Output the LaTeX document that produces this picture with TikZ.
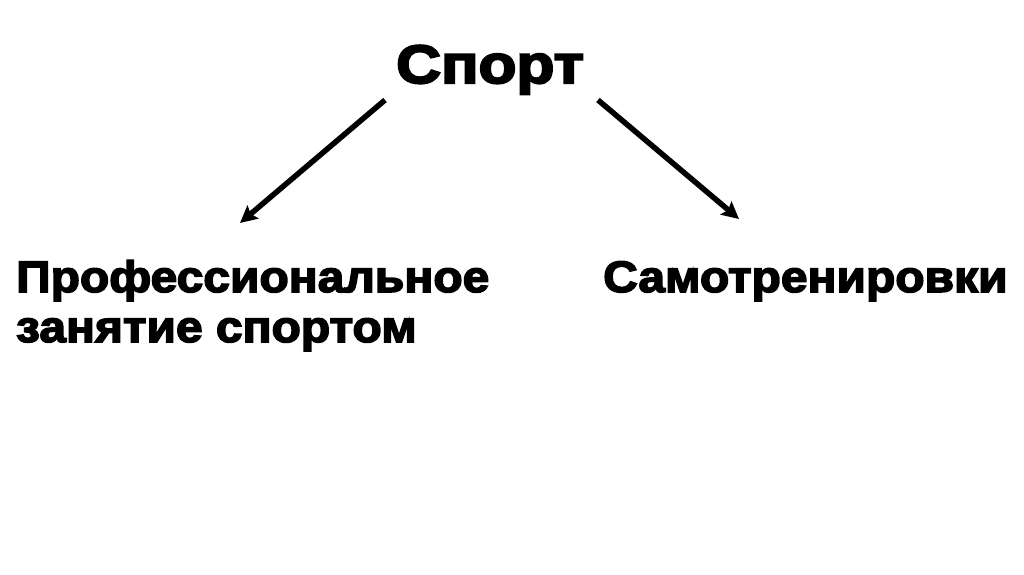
\documentclass[tikz,border=0pt]{standalone}
\usepackage{fontspec}
\setmainfont{Liberation Sans}[BoldFeatures={FakeBold=3.5,FakeStretch=1.09}]
\newfontfamily\ttlfont{Liberation Sans}[BoldFeatures={FakeBold=4,FakeStretch=1.15}]
\usetikzlibrary{arrows.meta}
\begin{document}
\begin{tikzpicture}[x=1pt,y=-1pt,
  lbl/.style={inner sep=0pt,font=\bfseries\fontsize{44}{50}\selectfont,align=left},
  ttl/.style={inner sep=0pt,font=\ttlfont\bfseries\fontsize{54}{60}\selectfont},
  arr/.style={line width=5.5pt,-{Stealth[length=17pt,width=17pt,inset=3pt]}}]
\useasboundingbox[fill=white] (0,0) rectangle (1024,574);
\node[ttl,anchor=base west] (sport) at (396,83) {Спорт};
\node[lbl,anchor=base west] (prof) at (16,342) {Профессиональное\\занятие спортом};
\node[lbl,anchor=base west] (self) at (603,292) {Самотренировки};
\coordinate (l1) at (385,100);
\coordinate (l2) at (240,223);
\coordinate (r1) at (598,100);
\coordinate (r2) at (739,219);
\draw[arr] (l1) -- (l2);
\draw[arr] (r1) -- (r2);
\end{tikzpicture}
\end{document}
